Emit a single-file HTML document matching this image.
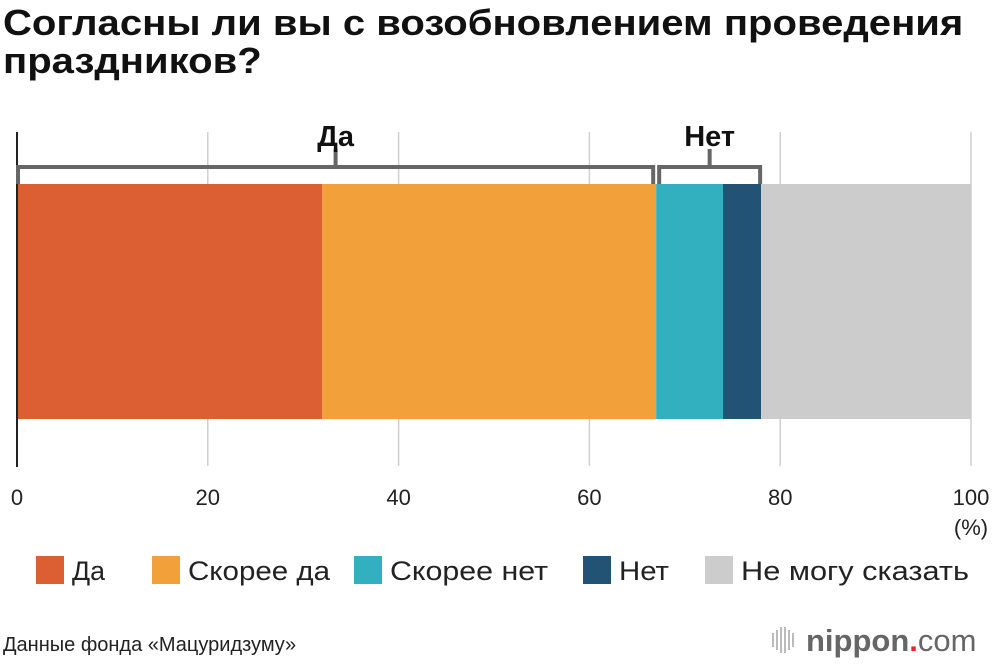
<!DOCTYPE html>
<html><head><meta charset="utf-8"><style>
body{margin:0;background:#fff;font-family:"Liberation Sans",sans-serif;}
#w{position:relative;width:1000px;height:664px;overflow:hidden;}
h1{position:absolute;left:3px;top:4px;margin:0;font-size:36px;line-height:38px;font-weight:bold;color:#111;transform:scaleX(1.113);transform-origin:0 0;white-space:nowrap;}
</style></head><body><div id="w">
<h1>Согласны ли вы с возобновлением проведения<br>праздников?</h1>
<svg id="c" width="1000" height="664" style="position:absolute;left:0;top:0"></svg>
</div>
<script>
const categories=["Да","Скорее да","Скорее нет","Нет","Не могу сказать"];
const values=[32,35,7,4,22];
const colors=["#db5f32","#f1a03a","#33b0bf","#225374","#cccccc"];
const ticks=[0,20,40,60,80,100];
const groups=[{label:"Да",from:0,to:2},{label:"Нет",from:2,to:4}];
const NS="http://www.w3.org/2000/svg";
const svg=document.getElementById('c');
const x=v=>17+v*9.54;
function mk(t,a,txt){const e=document.createElementNS(NS,t);for(const k in a)e.setAttribute(k,a[k]);if(txt!==undefined)e.textContent=txt;svg.appendChild(e);return e;}
ticks.forEach(t=>{
 if(t>0){const g=mk('line',{x1:x(t),x2:x(t),y1:132,y2:466,stroke:'#cfcfcf','stroke-width':1.5});
 
 }
 const l=mk('text',{x:x(t),y:505,'text-anchor':'middle','font-size':22,fill:'#222'},String(t));
 
 
});
const pct=mk('text',{x:971,y:535,'text-anchor':'middle','font-size':22,fill:'#222'},'(%)');


let cum=0;const cums=[0];
values.forEach((v,i)=>{
 const r=mk('rect',{x:x(cum),y:184,width:x(cum+v)-x(cum),height:235,fill:colors[i]});
 
 
 cum+=v;cums.push(cum);
});
const ax=mk('line',{x1:17,x2:17,y1:132,y2:467,stroke:'#222','stroke-width':2});


groups.forEach(g=>{
 const a=x(cums[g.from])+(g.from?3:1),b=x(cums[g.to])-(g.to<4?3:1),m=(a+b)/2;
 const p=mk('path',{d:`M${a} 184 V167 H${b} V184 M${m} 167 V149`,fill:'none',stroke:'#666','stroke-width':4});
 
 
 const t=mk('text',{x:m,y:146,'text-anchor':'middle','font-size':29,'font-weight':'bold',fill:'#111'},g.label);
 
 
});
const lx=[36,152,354,583,705];
categories.forEach((c,i)=>{
 const r=mk('rect',{x:lx[i],y:556,width:28,height:28,fill:colors[i]});
 
 
 const t=mk('text',{x:lx[i]+36,y:580,'font-size':27,fill:'#222',textLength:[33,142,158,50,228][i],lengthAdjust:'spacingAndGlyphs'},c);
 
 
});
const s=mk('text',{x:3,y:651,'font-size':20,fill:'#222'},'Данные фонда «Мацуридзуму»');


[0,1,2,3,4,5].forEach(i=>{const h=[14,20,26,26,20,14][i];const b=mk('rect',{x:772+i*4,y:640-h/2,width:2,height:h,fill:'#bbb'});
 
 });
const lg=mk('text',{x:806,y:651,'font-size':31,fill:'#666'});


lg.innerHTML='<tspan font-weight="bold">nippon</tspan><tspan fill="#e8232a" font-weight="bold">.</tspan><tspan>com</tspan>';
</script></body></html>
